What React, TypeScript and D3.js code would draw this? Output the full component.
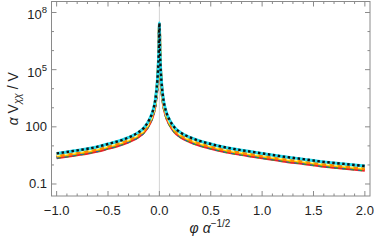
import React from "react";
import * as d3 from "d3";

// phi * alpha^(-1/2) sample positions
const phi = [
  -1.0, -0.9, -0.8, -0.7, -0.6, -0.5, -0.4, -0.3, -0.2, -0.15, -0.1, -0.06, -0.04,
  -0.02, -0.01, -0.004, 0, 0.004, 0.01, 0.02, 0.04, 0.06, 0.1, 0.15, 0.2, 0.3, 0.4,
  0.5, 0.6, 0.7, 0.8, 0.9, 1.0, 1.2, 1.4, 1.6, 1.8, 2.0,
];
// alpha V_xx / V, middle of the bundle
const vxx = [
  3.2, 3.8, 4.6, 5.6, 7.2, 10, 14, 22, 42, 71, 180, 630, 2000,
  2.0e4, 1.6e5, 1.6e6, 2.2e7, 1.6e6, 1.6e5, 2.0e4, 2000, 630, 180, 71, 42, 22, 14,
  10, 7.4, 5.8, 4.7, 3.9, 3.2, 2.2, 1.6, 1.15, 0.9, 0.7,
];
// each curve sits a little above / below the middle (in decades)
const seriesNames = ["red", "green", "blue", "orange", "yellow", "white", "cyan", "black"];
const seriesShift = [-0.13, -0.11, -0.09, -0.04, -0.01, 0.04, 0.1, 0.1];
const seriesColor = ["#e8202a", "#1aa53a", "#2d3fe0", "#ff8a00", "#ffd400", "#fff6b0", "#22dcf0", "#111111"];
const seriesDash = ["none", "4,4", "2,6", "none", "4,4", "3,5", "none", "2.5,2.5"];

const xTicks = [-1.0, -0.5, 0.0, 0.5, 1.0, 1.5, 2.0];
const yTicks = [1e8, 1e5, 100, 0.1];
const yTickLabels = ["8", "5", "100", "0.1"];

const W = 374, H = 240;
const left = 51.5, right = 370, top = 1.5, bottom = 196;

export default function App() {
  const x = d3.scaleLinear().domain([-1.05, 2.05]).range([left, right]);
  const y = d3.scaleLog().domain([Math.pow(10, -1.63), Math.pow(10, 8.577)]).range([bottom, top]);

  const minorX = d3.range(-10, 21).map((d) => d / 10).filter((d) => !xTicks.some((t) => Math.abs(t - d) < 1e-9));
  const minorY = [1e7, 1e6, 1e4, 1000, 10, 1];

  const fmtX = (d: number) => (d < 0 ? "\u2212" : "") + Math.abs(d).toFixed(1);
  const font = "'Liberation Sans', Arial, sans-serif";
  const frame = "#8a8a8a";

  return (
    <svg width={W} height={H} style={{ position: "absolute", left: 0, top: 0, background: "#fff" }}>
      <defs>
        <clipPath id="plot">
          <rect x={left} y={top} width={right - left} height={bottom - top} />
        </clipPath>
      </defs>
      {/* zero line */}
      <line x1={x(0)} x2={x(0)} y1={top} y2={bottom} stroke="#d4d4d4" strokeWidth={1} />
      <g clipPath="url(#plot)">
        {seriesNames.map((name, i) => {
          const line = d3
            .line<number>()
            .x((_, j) => x(phi[j]))
            .y((v) => y(v * Math.pow(10, seriesShift[i])))
            .curve(d3.curveMonotoneX);
          return (
            <path
              key={name}
              d={line(vxx) || ""}
              fill="none"
              stroke={seriesColor[i]}
              strokeWidth={name === "black" ? 2.4 : 3}
              strokeDasharray={seriesDash[i]}
              strokeLinejoin="round"
            />
          );
        })}
      </g>
      {/* frame */}
      <rect x={left} y={top} width={right - left} height={bottom - top} fill="none" stroke={frame} strokeWidth={1} />
      {xTicks.map((t) => (
        <g key={"xt" + t}>
          <line x1={x(t)} x2={x(t)} y1={bottom} y2={bottom - 5} stroke={frame} />
          <line x1={x(t)} x2={x(t)} y1={top} y2={top + 5} stroke={frame} />
          <text x={x(t)} y={215} textAnchor="middle" fontSize={13} fontFamily={font} fill="#222">
            {fmtX(t)}
          </text>
        </g>
      ))}
      {minorX.map((t) => (
        <g key={"xm" + t}>
          <line x1={x(t)} x2={x(t)} y1={bottom} y2={bottom - 2.5} stroke={frame} />
          <line x1={x(t)} x2={x(t)} y1={top} y2={top + 2.5} stroke={frame} />
        </g>
      ))}
      {yTicks.map((t, i) => (
        <g key={"yt" + t}>
          <line x1={left} x2={left + 5} y1={y(t)} y2={y(t)} stroke={frame} />
          <line x1={right} x2={right - 5} y1={y(t)} y2={y(t)} stroke={frame} />
          {t >= 1e5 ? (
            <text x={47} y={y(t) + 7} textAnchor="end" fontSize={13} fontFamily={font} fill="#222">
              10<tspan dy={-6} fontSize={9.5}>{yTickLabels[i]}</tspan>
            </text>
          ) : (
            <text x={47} y={y(t) + 4.5} textAnchor="end" fontSize={13} fontFamily={font} fill="#222">
              {yTickLabels[i]}
            </text>
          )}
        </g>
      ))}
      {minorY.map((t) => (
        <g key={"ym" + t}>
          <line x1={left} x2={left + 2.5} y1={y(t)} y2={y(t)} stroke={frame} />
          <line x1={right} x2={right - 2.5} y1={y(t)} y2={y(t)} stroke={frame} />
        </g>
      ))}
      {/* axis labels */}
      <text x={210} y={233} textAnchor="middle" fontSize={14} fontFamily={font} fill="#222">
        <tspan fontStyle="italic">{"\u03c6 \u03b1"}</tspan>
        <tspan dy={-6} fontSize={10}>{"\u22121/2"}</tspan>
      </text>
      <text
        transform={`translate(18,${(top + bottom) / 2}) rotate(-90)`}
        textAnchor="middle"
        fontSize={14}
        fontFamily={font}
        fill="#222"
      >
        <tspan fontStyle="italic">{"\u03b1"}</tspan>
        <tspan>{" V"}</tspan>
        <tspan dy={3} fontSize={10} fontStyle="italic">{"\u03c7\u03c7"}</tspan>
        <tspan dy={-3}>{" / V"}</tspan>
      </text>
    </svg>
  );
}
